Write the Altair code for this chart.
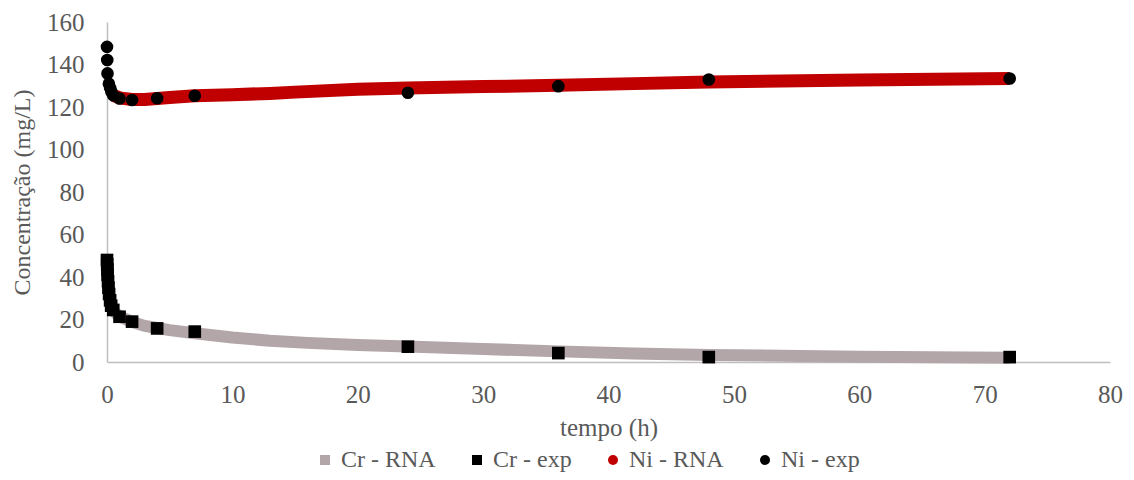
import altair as alt
import pandas as pd

# ---- data ----
cr_exp_t = [0, 0.017, 0.033, 0.05, 0.083, 0.117, 0.167, 0.25, 0.333, 0.5, 1, 2, 4, 7, 24, 36, 48, 72]
cr_exp_v = [48, 46, 43.5, 41, 38, 35, 32, 29, 26.5, 24.5, 21.3, 19, 15.8, 14.3, 7.2, 4.2, 2.3, 2.3]

ni_exp_t = [0, 0.02, 0.04, 0.15, 0.25, 0.35, 0.5, 1, 2, 4, 7, 24, 36, 48, 72]
ni_exp_v = [148.3, 142.1, 135.8, 131, 129, 127.2, 125.5, 124, 123.3, 124.1, 125.3, 126.7, 129.8, 132.9, 133.4]

cr_rna_t = [0.5, 1, 2, 3, 4, 5, 7, 10, 13, 16, 20, 24, 30, 36, 42, 48, 60, 72]
cr_rna_v = [24, 21.5, 18.8, 17, 16, 15, 13.5, 11.5, 10, 9, 8, 7.3, 6.1, 5, 4, 3.3, 2.5, 2.0]

ni_rna_t = [0.5, 1, 2, 3, 4, 5, 7, 10, 13, 15, 20, 24, 30, 36, 42, 48, 60, 72]
ni_rna_v = [125.5, 124.3, 123.5, 123.5, 124, 124.5, 125.3, 125.8, 126.4, 127, 128.3, 128.9, 129.6, 130.2, 131, 131.8, 132.7, 133.4]

series_names = ["Cr - RNA", "Cr - exp", "Ni - RNA", "Ni - exp"]
series_colors = ["#B3A6A8", "#000000", "#C00000", "#000000"]
series_shapes = ["square", "square", "circle", "circle"]

x_ticks = [0, 10, 20, 30, 40, 50, 60, 70, 80]
y_ticks = [0, 20, 40, 60, 80, 100, 120, 140, 160]

FONT = "Liberation Serif"
TXT = "#595959"
AX = "#BFBFBF"

cr_rna = pd.DataFrame({"t": cr_rna_t, "v": cr_rna_v})
ni_rna = pd.DataFrame({"t": ni_rna_t, "v": ni_rna_v})
exp_df = pd.concat([
    pd.DataFrame({"t": cr_exp_t, "v": cr_exp_v, "s": "Cr - exp"}),
    pd.DataFrame({"t": ni_exp_t, "v": ni_exp_v, "s": "Ni - exp"}),
])

xs = alt.Scale(domain=[0, 80], nice=False)
ys = alt.Scale(domain=[0, 160], nice=False)

x_axis = alt.Axis(values=x_ticks, title="tempo (h)", grid=False, ticks=False, labelFlush=False,
                  domainColor=AX, domainWidth=1.5, labelFont=FONT, labelFontSize=25,
                  labelColor=TXT, labelPadding=20, titleFont=FONT, titleFontSize=25,
                  titleColor=TXT, titleFontWeight="normal", titlePadding=8)
y_axis = alt.Axis(values=y_ticks, title="Concentração (mg/L)", grid=False, ticks=False, labelFlush=False,
                  domainColor=AX, domainWidth=1.5, labelFont=FONT, labelFontSize=25,
                  labelColor=TXT, labelPadding=23, titleFont=FONT, titleFontSize=24,
                  titleColor=TXT, titleFontWeight="normal", titlePadding=12)

cr_line = alt.Chart(cr_rna).mark_line(color="#B3A6A8", strokeWidth=12, strokeCap="butt",
                                      strokeJoin="round").encode(
    x=alt.X("t:Q", scale=xs, axis=x_axis),
    y=alt.Y("v:Q", scale=ys, axis=y_axis),
)
ni_line = alt.Chart(ni_rna).mark_line(color="#C00000", strokeWidth=13, strokeCap="butt",
                                      strokeJoin="round").encode(
    x=alt.X("t:Q", scale=xs),
    y=alt.Y("v:Q", scale=ys),
)

legend = alt.Legend(title=None, orient="none", direction="horizontal", legendX=206, legendY=426,
                    labelFont=FONT, labelFontSize=24, labelColor=TXT, symbolSize=100,
                    symbolStrokeWidth=0, labelOffset=4, columnPadding=29, padding=0)

pts = alt.Chart(exp_df).mark_point(filled=True, size=160, opacity=1).encode(
    x=alt.X("t:Q", scale=xs),
    y=alt.Y("v:Q", scale=ys),
    color=alt.Color("s:N", scale=alt.Scale(domain=series_names, range=series_colors), legend=legend),
    shape=alt.Shape("s:N", scale=alt.Scale(domain=series_names, range=series_shapes), legend=legend),
)

chart = alt.layer(cr_line, ni_line, pts).properties(
    width=1003, height=340,
    autosize=alt.AutoSizeParams(type="none"),
    padding={"left": 99, "top": 14, "right": 16, "bottom": 110},
).configure_view(stroke=None)

chart.save("out.html", embed_options={"renderer": "svg", "actions": False})
